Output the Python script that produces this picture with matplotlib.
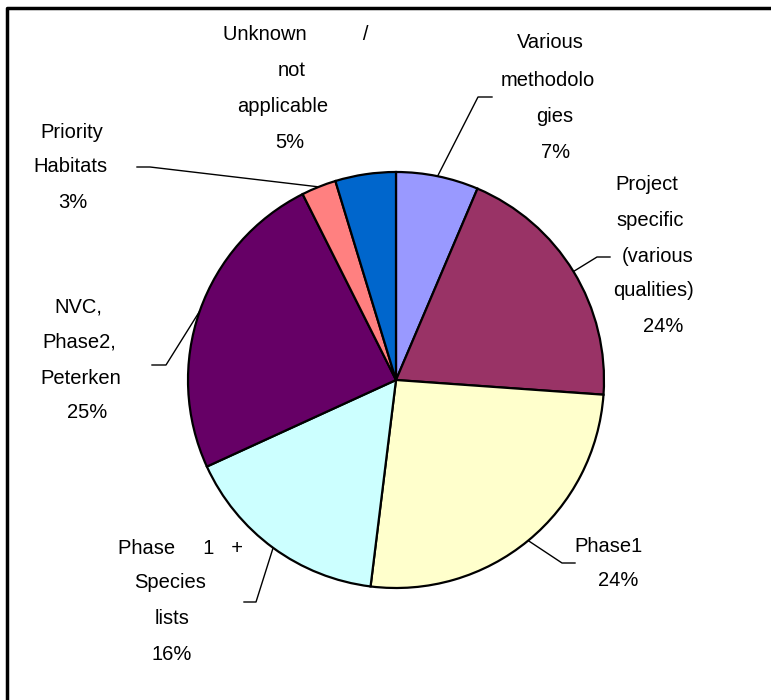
import numpy as np
import matplotlib
matplotlib.use('Agg')
import matplotlib.pyplot as plt

# slice data (clockwise from 12 o'clock)
labels = ['Various methodologies', 'Project specific (various qualities)', 'Phase1',
          'Phase 1 + Species lists', 'NVC, Phase2, Peterken', 'Priority Habitats',
          'Unknown / not applicable']
values = [6.4, 19.7, 25.8, 16.2, 24.4, 2.7, 4.7]
pct_text = ['7%', '24%', '24%', '16%', '25%', '3%', '5%']
colors = ['#9999FF', '#993366', '#FFFFCC', '#CCFFFF', '#660066', '#FF8080', '#0066CC']

W, H = 771, 700
fig = plt.figure(figsize=(W / 100, H / 100), dpi=100)
ax = fig.add_axes([0, 0, 1, 1])

def P(x, y):
    # image pixel coords -> data coords
    return x, H - y

cx, cy = P(396, 380)
R = 208
wedges, _ = ax.pie(values, colors=colors, startangle=90, counterclock=False,
                   center=(cx, cy), radius=R,
                   wedgeprops=dict(edgecolor='black', linewidth=1.6))
ax.set_xlim(0, W)
ax.set_ylim(0, H)
ax.set_aspect('equal')
ax.axis('off')

# label text lines: (slice index, lines, line centres in px)
label_lines = {
    0: [('Various', 550, 43), ('methodolo', 548, 80), ('gies', 555, 117), ('7%', 556, 152)],
    1: [('Project', 647, 185), ('specific', 650, 220), ('(various', 658, 256),
        ('qualities)', 654, 291), ('24%', 663, 327)],
    2: [('Phase1', 608, 546), ('24%', 618, 581)],
    3: [('Phase     1   +', 180, 548), ('Species', 170, 583), ('lists', 172, 619), ('16%', 172, 655)],
    4: [('NVC,', 78, 307), ('Phase2,', 79, 342), ('Peterken', 81, 378), ('25%', 87, 413)],
    5: [('Priority', 72, 132), ('Habitats', 70, 167), ('3%', 73, 202)],
    6: [('Unknown          /', 296, 35), ('not', 292, 70), ('applicable', 283, 106), ('5%', 290, 143)],
}
# leader line elbow and end points (px); None = no leader
leaders = {
    0: ((478, 97), (492, 97)),
    1: ((597, 257), (610, 257)),
    2: ((562, 563), (575, 563)),
    3: ((256, 602), (244, 602)),
    4: ((166, 365), (152, 365)),
    5: ((150, 167), (137, 167)),
    6: None,
}

font = ['Liberation Sans', 'DejaVu Sans']
for i, w in enumerate(wedges):
    for txt, x, y in label_lines[i]:
        ax.text(*P(x, y), txt, ha='center', va='center', fontsize=14.5,
                family=font, color='black')
    if leaders[i] is None:
        continue
    mid = np.deg2rad((w.theta1 + w.theta2) / 2)
    ex, ey = cx + R * np.cos(mid), cy + R * np.sin(mid)
    (bx, by), (tx, ty) = leaders[i]
    bx, by = P(bx, by)
    tx, ty = P(tx, ty)
    ax.plot([ex, bx, tx], [ey, by, ty], color='black', lw=1.0, zorder=0)

# chart frame
ax.plot([7, 7, W], [0, H - 8, H - 8], color='black', lw=2.5, clip_on=False)

fig.savefig('out.png', dpi=100)
